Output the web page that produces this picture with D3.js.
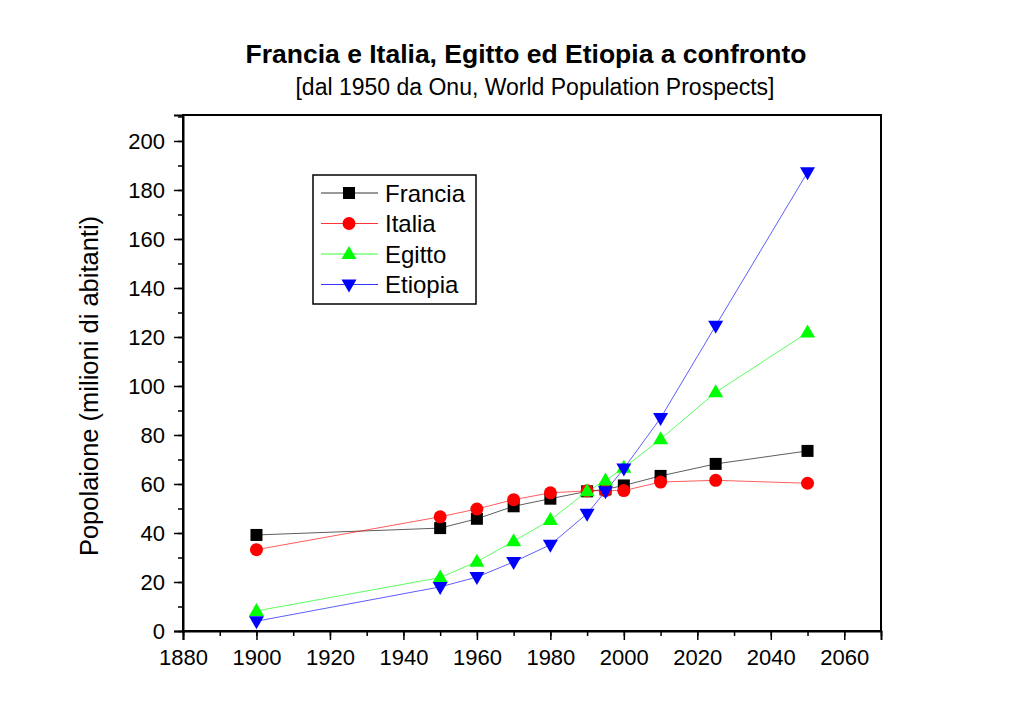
<!DOCTYPE html>
<html><head><meta charset="utf-8">
<script src="https://cdn.jsdelivr.net/npm/d3@7"></script>
<style>body{margin:0;background:#fff;}text{font-family:"Liberation Sans",Arial,sans-serif;}</style>
</head><body><svg id="c" width="1024" height="717"></svg>
<script>
const years = [1900, 1950, 1960, 1970, 1980, 1990, 1995, 2000, 2010, 2025, 2050];
const francia = [39.2, 42.0, 45.8, 50.9, 54.0, 57.0, 57.8, 59.4, 63.3, 68.2, 73.5];
const italia  = [33.2, 46.6, 49.8, 53.6, 56.4, 57.2, 57.3, 57.3, 60.8, 61.5, 60.3];
const egitto  = [8.2, 21.8, 28.3, 36.6, 45.3, 57.0, 61.4, 66.6, 78.3, 97.4, 121.8];
const etiopia = [4.0, 18.0, 22.0, 28.2, 35.2, 47.9, 57.0, 66.3, 86.9, 124.6, 187.2];
const seriesNames = ["Francia", "Italia", "Egitto", "Etiopia"];
const seriesColors = ["#000000", "#ff0000", "#00ff00", "#0000ff"];
const seriesShapes = ["square", "circle", "up", "down"];
const xTicks = [1880, 1900, 1920, 1940, 1960, 1980, 2000, 2020, 2040, 2060];
const yTicks = [0, 20, 40, 60, 80, 100, 120, 140, 160, 180, 200];
const title = "Francia e Italia, Egitto ed Etiopia a confronto";
const subtitle = "[dal 1950 da Onu, World Population Prospects]";
const yLabel = "Popolaione (milioni di abitanti)";

const svg = d3.select("#c");
const L = 183, R = 881, T = 115, B = 631;
const x = d3.scaleLinear().domain([1880, 2070]).range([L, R]);
const y = d3.scaleLinear().domain([0, 210.6]).range([B, T]);

const data = [francia, italia, egitto, etiopia];

// frame
svg.append("rect").attr("x", L).attr("y", T).attr("width", R - L).attr("height", B - T)
  .attr("fill", "none").attr("stroke", "#000").attr("stroke-width", 2);

// x axis
const xMinor = d3.range(1880, 2071, 10);
svg.append("g").attr("transform", `translate(0,${B})`)
  .call(d3.axisBottom(x).tickValues(xMinor).tickSize(5).tickFormat(""))
  .call(g => { g.select(".domain").remove(); g.selectAll("line").attr("stroke-width", 1.5); });
svg.append("g").attr("transform", `translate(0,${B})`)
  .call(d3.axisBottom(x).tickValues(xTicks).tickSize(9).tickPadding(9).tickFormat(d3.format("d")))
  .call(g => {
    g.select(".domain").attr("stroke-width", 2);
    g.selectAll("line").attr("stroke-width", 1.5);
    g.selectAll("text").attr("font-size", 22).attr("fill", "#000");
  });

// y axis
const yMinor = d3.range(0, 211, 10);
svg.append("g").attr("transform", `translate(${L},0)`)
  .call(d3.axisLeft(y).tickValues(yMinor).tickSize(5).tickFormat(""))
  .call(g => { g.select(".domain").remove(); g.selectAll("line").attr("stroke-width", 1.5); });
svg.append("g").attr("transform", `translate(${L},0)`)
  .call(d3.axisLeft(y).tickValues(yTicks).tickSize(9).tickPadding(9).tickFormat(d3.format("d")))
  .call(g => {
    g.select(".domain").attr("stroke-width", 2);
    g.selectAll("line").attr("stroke-width", 1.5);
    g.selectAll("text").attr("font-size", 22).attr("fill", "#000");
  });

function marker(sel, shape, color) {
  if (shape === "square") {
    sel.append("rect").attr("x", -6).attr("y", -6).attr("width", 12).attr("height", 12).attr("fill", color);
  } else if (shape === "circle") {
    sel.append("circle").attr("r", 6.5).attr("fill", color);
  } else if (shape === "up") {
    sel.append("path").attr("d", "M0,-8 L7.5,5 L-7.5,5 Z").attr("fill", color);
  } else {
    sel.append("path").attr("d", "M0,8 L7.5,-5 L-7.5,-5 Z").attr("fill", color);
  }
}

const line = d3.line().x((d, i) => x(years[i])).y(d => y(d));
data.forEach((vals, s) => {
  svg.append("path").attr("d", line(vals)).attr("fill", "none")
    .attr("stroke", seriesColors[s]).attr("stroke-width", 0.8).attr("stroke-opacity", 0.8);
});
data.forEach((vals, s) => {
  vals.forEach((v, i) => {
    const g = svg.append("g").attr("transform", `translate(${x(years[i])},${y(v)})`);
    marker(g, seriesShapes[s], seriesColors[s]);
  });
});

// legend
svg.append("rect").attr("x", 313).attr("y", 175).attr("width", 163).attr("height", 129)
  .attr("fill", "#fff").attr("stroke", "#000").attr("stroke-width", 1.5);
seriesNames.forEach((n, s) => {
  const ly = 193 + s * 30.5;
  svg.append("line").attr("x1", 321).attr("x2", 378).attr("y1", ly).attr("y2", ly)
    .attr("stroke", seriesColors[s]).attr("stroke-width", 0.8);
  const g = svg.append("g").attr("transform", `translate(349,${ly})`);
  marker(g, seriesShapes[s], seriesColors[s]);
  svg.append("text").attr("x", 385).attr("y", ly + 8.5).attr("font-size", 24).text(n);
});

// titles
svg.append("text").attr("x", 526).attr("y", 63).attr("text-anchor", "middle")
  .attr("font-size", 26.5).attr("font-weight", "bold").text(title);
svg.append("text").attr("x", 535).attr("y", 95).attr("text-anchor", "middle")
  .attr("font-size", 23).text(subtitle);
svg.append("text").attr("transform", `translate(98,386) rotate(-90)`).attr("text-anchor", "middle")
  .attr("font-size", 25.5).text(yLabel);
</script></body></html>
